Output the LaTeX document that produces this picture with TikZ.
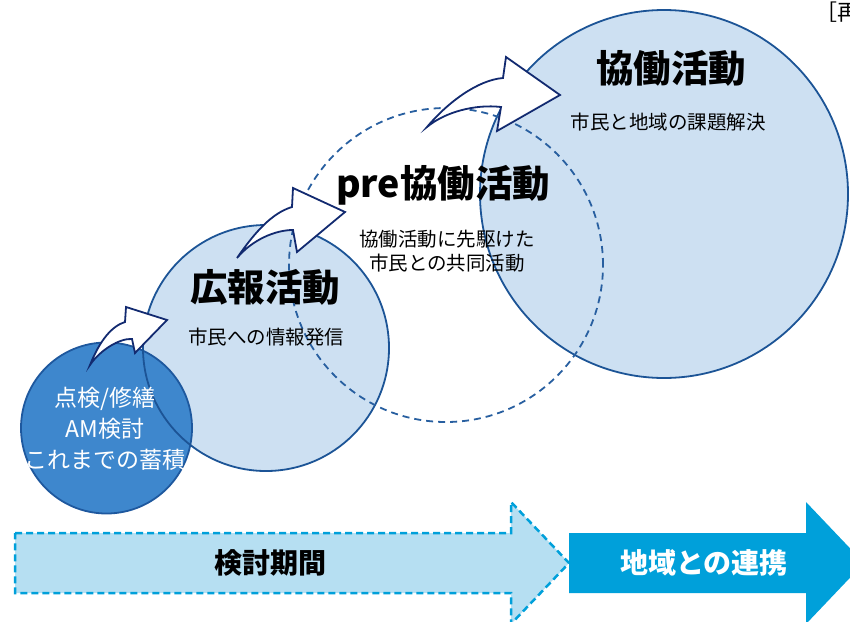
\documentclass[tikz,border=0pt]{standalone}
\usepackage{fontspec}
\newfontfamily\jp{Noto Sans CJK JP}
\definecolor{lightfill}{RGB}{205,224,242}
\definecolor{circline}{RGB}{28,84,150}
\definecolor{darkfill}{RGB}{62,135,205}
\definecolor{smallline}{RGB}{30,88,158}
\definecolor{dashline}{RGB}{40,95,160}
\definecolor{arrowline}{RGB}{18,42,112}
\definecolor{lightarrow}{RGB}{182,223,242}
\definecolor{cyanarrow}{RGB}{0,160,218}
\begin{document}
\begin{tikzpicture}[x=1pt,y=-1pt,
  bubble/.style={circle, inner sep=0pt, outer sep=0pt, line width=1.8pt},
  bigtitle/.style={font=\jp\bfseries\fontsize{37.5}{44}\selectfont, inner sep=0pt},
  subtext/.style={font=\jp\fontsize{19.5}{24}\selectfont, inner sep=0pt, align=center},
  whitetext/.style={font=\jp\fontsize{23}{31}\selectfont, text=white, inner sep=0pt, align=center},
  bartext/.style={font=\jp\bfseries\fontsize{28}{32}\selectfont, inner sep=0pt},
  curvearrow/.style={fill=white, draw=arrowline, line width=1.8pt, line join=miter},
  ]
\useasboundingbox (0,0) rectangle (850,621);

% circles
\node[bubble, fill=lightfill, minimum size=246pt] (koho) at (266,348) {};
\node[bubble, fill=lightfill, draw=circline, minimum size=368pt] (kyodo) at (664,194) {};
\node[bubble, fill=darkfill, draw=smallline, minimum size=171pt] (tenken) at (106.5,428) {};
\node[bubble, draw=circline, minimum size=246pt] (kohoedge) at (koho.center) {};
\node[bubble, draw=dashline, dash pattern=on 7pt off 5pt, minimum size=314pt] (pre) at (446,265) {};

% curved block arrows
\draw[curvearrow] (90,365) .. controls (100,340) and (112,326) .. (125,322)
  -- (126,307) -- (167,320) -- (135,353) -- (132,339)
  .. controls (120,338) and (100,350) .. cycle;
\draw[curvearrow] (237,258) .. controls (255,232) and (272,213) .. (292,207)
  -- (293,188) -- (345,212) -- (297,252) -- (293,230)
  .. controls (275,230) and (252,240) .. cycle;
\draw[curvearrow] (427,127) .. controls (448,102) and (478,80) .. (503,78)
  -- (506,57) -- (560,95) -- (497,131) -- (501,107)
  .. controls (475,104) and (445,112) .. cycle;

% texts
\node[bigtitle] (t1) at (671,68) {協働活動};
\node[subtext] (s1) at (668,122) {市民と地域の課題解決};
\node[bigtitle] (t2) at (443,185) {pre協働活動};
\node[subtext] (s2) at (447,251) {協働活動に先駆けた\\市民との共同活動};
\node[bigtitle] (t3) at (265,287) {広報活動};
\node[subtext] (s3) at (266,337) {市民への情報発信};
\node[whitetext] (s4) at (105,429) {点検/修繕\\AM検討\\これまでの蓄積};

% bottom arrows
\draw[fill=lightarrow, draw=cyanarrow, line width=2.5pt, dash pattern=on 7pt off 4pt]
  (15,533) -- (511,533) -- (511,502) -- (569,563) -- (511,624) -- (511,593) -- (15,593) -- cycle;
\fill[cyanarrow]
  (569,533) -- (806,533) -- (806,502) -- (864,563) -- (806,624) -- (806,593) -- (569,593) -- cycle;
\node[bartext] (b1) at (270,563) {検討期間};
\node[bartext, text=white] (b2) at (704,563) {地域との連携};

% top-right note (cut by page edge, as in the reference)
\node[font=\jp\fontsize{22}{26}\selectfont, inner sep=0pt, anchor=base west] (note) at (815,20) {［再掲］};
\end{tikzpicture}
\end{document}
